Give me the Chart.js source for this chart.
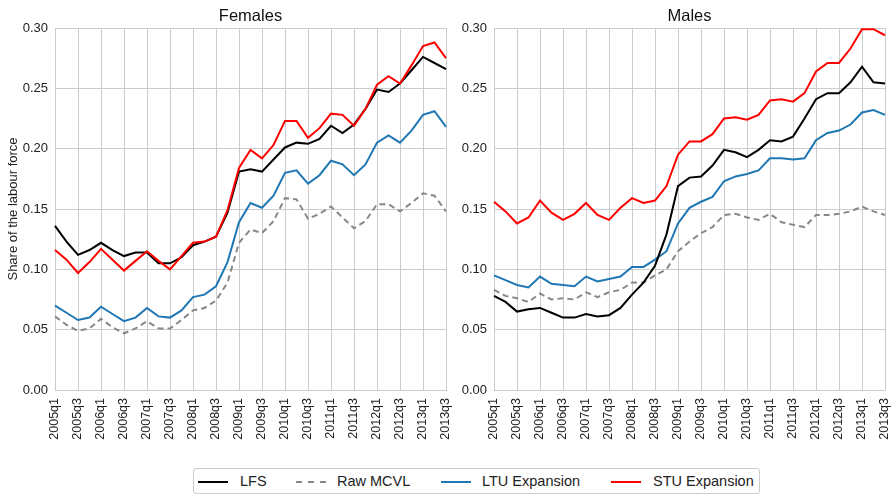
<!DOCTYPE html>
<html><head><meta charset="utf-8">
<script src="https://cdn.jsdelivr.net/npm/chart.js@4.4.0/dist/chart.umd.min.js"></script>
<style>
html,body{margin:0;padding:0;background:#fff;}
body{width:892px;height:495px;position:relative;overflow:hidden;font-family:"Liberation Sans",Arial,sans-serif;}
#cF{position:absolute;left:0;top:0;}
#cM{position:absolute;left:450px;top:0;}
#legend{position:absolute;left:193px;top:468px;width:567px;height:26px;border:1px solid #ccc;border-radius:3px;box-sizing:border-box;background:#fff;}
.s{position:absolute;top:12px;height:2px;width:30px;}
.t{position:absolute;top:0;line-height:25px;font-size:14.5px;color:#222;white-space:nowrap;}
</style>
</head><body>
<canvas id="cF" width="456" height="450" style="width:456px;height:450px"></canvas>
<canvas id="cM" width="442" height="450" style="width:442px;height:450px"></canvas>
<div id="legend">
  <div class="s" style="left:4px;background:#000"></div><div class="t" style="left:46px">LFS</div>
  <div class="s" style="left:102px;background:repeating-linear-gradient(to right,#888 0 6px,transparent 6px 12px)"></div><div class="t" style="left:143px">Raw MCVL</div>
  <div class="s" style="left:247px;background:#1f77b4"></div><div class="t" style="left:288px">LTU Expansion</div>
  <div class="s" style="left:417px;background:#ff0000"></div><div class="t" style="left:459px">STU Expansion</div>
</div>
<script>
const quarters = ["2005q1","2005q2","2005q3","2005q4","2006q1","2006q2","2006q3","2006q4","2007q1","2007q2","2007q3","2007q4","2008q1","2008q2","2008q3","2008q4","2009q1","2009q2","2009q3","2009q4","2010q1","2010q2","2010q3","2010q4","2011q1","2011q2","2011q3","2011q4","2012q1","2012q2","2012q3","2012q4","2013q1","2013q2","2013q3"];
const seriesNames = ["LFS","Raw MCVL","LTU Expansion","STU Expansion"];
const yTicks = [0,0.05,0.10,0.15,0.20,0.25,0.30];

// Females
const lfsF = [0.136,0.123,0.112,0.116,0.122,0.116,0.111,0.114,0.114,0.105,0.105,0.110,0.120,0.123,0.127,0.147,0.181,0.183,0.181,0.191,0.201,0.205,0.204,0.208,0.219,0.213,0.220,0.233,0.249,0.247,0.254,0.265,0.276,0.271,0.266];
const rawF = [0.061,0.054,0.049,0.051,0.059,0.052,0.047,0.051,0.057,0.051,0.051,0.058,0.066,0.068,0.074,0.089,0.122,0.133,0.130,0.140,0.159,0.158,0.142,0.146,0.152,0.143,0.134,0.140,0.154,0.154,0.148,0.155,0.163,0.161,0.148];
const ltuF = [0.070,0.064,0.058,0.060,0.069,0.063,0.057,0.060,0.068,0.061,0.060,0.066,0.077,0.079,0.086,0.106,0.139,0.155,0.151,0.161,0.180,0.182,0.171,0.178,0.190,0.187,0.178,0.187,0.205,0.211,0.205,0.215,0.228,0.231,0.218];
const stuF = [0.116,0.108,0.097,0.106,0.117,0.108,0.099,0.107,0.115,0.107,0.100,0.111,0.122,0.123,0.127,0.149,0.184,0.199,0.192,0.203,0.223,0.223,0.209,0.217,0.229,0.228,0.219,0.233,0.253,0.260,0.254,0.269,0.285,0.288,0.275];

// Males
const lfsM = [0.078,0.073,0.065,0.067,0.068,0.064,0.060,0.060,0.063,0.061,0.062,0.068,0.079,0.089,0.103,0.129,0.169,0.176,0.177,0.186,0.199,0.197,0.193,0.199,0.207,0.206,0.210,0.225,0.241,0.246,0.246,0.255,0.268,0.255,0.254];
const rawM = [0.083,0.078,0.076,0.073,0.080,0.075,0.076,0.075,0.081,0.077,0.081,0.083,0.089,0.089,0.095,0.100,0.115,0.123,0.130,0.135,0.145,0.146,0.143,0.141,0.146,0.139,0.137,0.135,0.145,0.145,0.146,0.148,0.152,0.148,0.145];
const ltuM = [0.095,0.091,0.087,0.085,0.094,0.088,0.087,0.086,0.094,0.090,0.092,0.094,0.102,0.102,0.108,0.115,0.138,0.151,0.156,0.160,0.173,0.177,0.179,0.182,0.192,0.192,0.191,0.192,0.207,0.213,0.215,0.220,0.230,0.232,0.228];
const stuM = [0.156,0.148,0.138,0.143,0.157,0.147,0.141,0.146,0.155,0.145,0.141,0.151,0.159,0.155,0.157,0.169,0.195,0.206,0.206,0.212,0.225,0.226,0.224,0.228,0.240,0.241,0.239,0.246,0.264,0.271,0.271,0.283,0.299,0.299,0.294];

Chart.defaults.font.family = '"Liberation Sans", Arial, sans-serif';
Chart.defaults.color = '#222';

const panelTitle = {
  id: 'panelTitle',
  afterDraw(chart, args, opts) {
    const {ctx, chartArea} = chart;
    ctx.save();
    ctx.font = '16.5px "Liberation Sans", Arial, sans-serif';
    ctx.fillStyle = '#111';
    ctx.textAlign = 'center';
    ctx.textBaseline = 'middle';
    ctx.fillText(opts.text, (chartArea.left + chartArea.right) / 2, 16);
    ctx.restore();
  }
};

function makeChart(id, title, lfs, raw, ltu, stu, yWidth, showYTitle, padRight) {
  return new Chart(document.getElementById(id), {
    type: 'line',
    data: {
      labels: quarters,
      datasets: [
        {label: seriesNames[3], data: stu, borderColor: '#ff0000'},
        {label: seriesNames[0], data: lfs, borderColor: '#000000'},
        {label: seriesNames[2], data: ltu, borderColor: '#1f77b4'},
        {label: seriesNames[1], data: raw, borderColor: '#888888', borderDash: [6, 4]}
      ]
    },
    options: {
      responsive: false,
      animation: false,
      devicePixelRatio: 1,
      layout: {padding: {top: 28, right: padRight, left: 0, bottom: 0}},
      elements: {
        point: {radius: 0},
        line: {borderWidth: 2, tension: 0, fill: false}
      },
      plugins: {
        legend: {display: false},
        tooltip: {enabled: false},
        panelTitle: {text: title}
      },
      scales: {
        x: {
          type: 'category',
          grid: {color: '#cccccc', lineWidth: 1, drawTicks: false},
          border: {color: '#cccccc'},
          ticks: {
            autoSkip: false, minRotation: 90, maxRotation: 90, padding: 8,
            font: {size: 12.5}, color: '#222',
            callback: (v, i) => (i % 2 === 0 ? quarters[i] : null)
          },
          afterFit: s => { s.height = 60; s.paddingLeft = 0; s.paddingRight = 0; }
        },
        y: {
          min: 0, max: 0.3,
          afterBuildTicks: s => { s.ticks = yTicks.map(v => ({value: v})); },
          grid: {color: '#cccccc', lineWidth: 1, drawTicks: false},
          border: {color: '#cccccc'},
          ticks: {padding: 7, font: {size: 13}, color: '#222', callback: v => Number(v).toFixed(2)},
          title: {display: showYTitle, text: 'Share of the labour force', font: {size: 13}, color: '#222', padding: {top: 6, bottom: 0}},
          afterFit: s => { s.width = yWidth; }
        }
      }
    },
    plugins: [panelTitle]
  });
}

makeChart('cF', 'Females', lfsF, rawF, ltuF, stuF, 55, true, 10);
makeChart('cM', 'Males', lfsM, rawM, ltuM, stuM, 44, false, 7);
</script>
</body></html>
